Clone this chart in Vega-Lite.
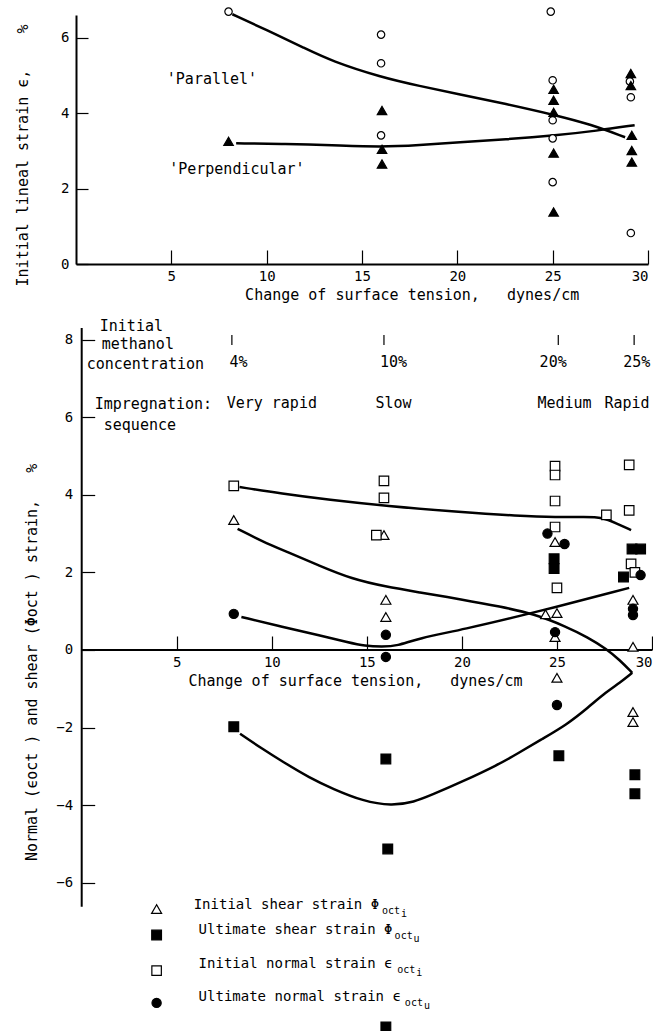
{
  "$schema": "https://vega.github.io/schema/vega-lite/v6.json",
  "background": "white",
  "padding": {"left": 15, "top": 5, "right": 0, "bottom": 0},
  "autosize": {"type": "pad"},
  "spacing": 64,
  "bounds": "flush",
  "resolve": {"scale": {"shape": "independent", "fill": "independent", "size": "independent"}},
  "datasets": {
    "topPoints": [
      {"x": 8.0, "y": 6.69, "s": "Parallel"},
      {"x": 16.0, "y": 6.08, "s": "Parallel"},
      {"x": 16.0, "y": 5.32, "s": "Parallel"},
      {"x": 16.0, "y": 3.41, "s": "Parallel"},
      {"x": 24.9, "y": 6.69, "s": "Parallel"},
      {"x": 25.0, "y": 4.87, "s": "Parallel"},
      {"x": 25.0, "y": 3.81, "s": "Parallel"},
      {"x": 25.0, "y": 3.33, "s": "Parallel"},
      {"x": 25.0, "y": 2.17, "s": "Parallel"},
      {"x": 29.05, "y": 4.84, "s": "Parallel"},
      {"x": 29.1, "y": 4.42, "s": "Parallel"},
      {"x": 29.1, "y": 0.82, "s": "Parallel"},
      {"x": 8.0, "y": 3.25, "s": "Perpendicular"},
      {"x": 16.05, "y": 4.07, "s": "Perpendicular"},
      {"x": 16.05, "y": 3.04, "s": "Perpendicular"},
      {"x": 16.05, "y": 2.65, "s": "Perpendicular"},
      {"x": 25.05, "y": 4.63, "s": "Perpendicular"},
      {"x": 25.05, "y": 4.34, "s": "Perpendicular"},
      {"x": 25.05, "y": 4.02, "s": "Perpendicular"},
      {"x": 25.05, "y": 2.94, "s": "Perpendicular"},
      {"x": 25.05, "y": 1.38, "s": "Perpendicular"},
      {"x": 29.1, "y": 5.05, "s": "Perpendicular"},
      {"x": 29.1, "y": 4.73, "s": "Perpendicular"},
      {"x": 29.15, "y": 3.41, "s": "Perpendicular"},
      {"x": 29.15, "y": 3.01, "s": "Perpendicular"},
      {"x": 29.15, "y": 2.7, "s": "Perpendicular"}
    ],
    "topCurves": [
      {"x": 8.2, "y": 6.62, "s": "Parallel"},
      {"x": 10.0, "y": 6.2, "s": "Parallel"},
      {"x": 12.0, "y": 5.72, "s": "Parallel"},
      {"x": 13.4, "y": 5.38, "s": "Parallel"},
      {"x": 16.0, "y": 4.95, "s": "Parallel"},
      {"x": 18.0, "y": 4.72, "s": "Parallel"},
      {"x": 20.1, "y": 4.5, "s": "Parallel"},
      {"x": 22.5, "y": 4.25, "s": "Parallel"},
      {"x": 25.2, "y": 3.94, "s": "Parallel"},
      {"x": 27.0, "y": 3.7, "s": "Parallel"},
      {"x": 28.8, "y": 3.36, "s": "Parallel"},
      {"x": 8.4, "y": 3.2, "s": "Perpendicular"},
      {"x": 11.0, "y": 3.18, "s": "Perpendicular"},
      {"x": 13.4, "y": 3.15, "s": "Perpendicular"},
      {"x": 16.0, "y": 3.1, "s": "Perpendicular"},
      {"x": 18.0, "y": 3.15, "s": "Perpendicular"},
      {"x": 20.1, "y": 3.23, "s": "Perpendicular"},
      {"x": 22.5, "y": 3.3, "s": "Perpendicular"},
      {"x": 25.2, "y": 3.41, "s": "Perpendicular"},
      {"x": 27.3, "y": 3.53, "s": "Perpendicular"},
      {"x": 29.3, "y": 3.68, "s": "Perpendicular"}
    ],
    "topLabels": [
      {"x": 7.13, "y": 4.9, "text": "'Parallel'"},
      {"x": 8.44, "y": 2.52, "text": "'Perpendicular'"}
    ],
    "bottomPoints": [
      {"x": 8.0, "y": 3.35, "series": "initShear"},
      {"x": 15.9, "y": 2.96, "series": "initShear"},
      {"x": 16.0, "y": 1.29, "series": "initShear"},
      {"x": 16.0, "y": 0.85, "series": "initShear"},
      {"x": 24.9, "y": 2.78, "series": "initShear"},
      {"x": 24.4, "y": 0.92, "series": "initShear"},
      {"x": 25.0, "y": 0.95, "series": "initShear"},
      {"x": 24.9, "y": 0.33, "series": "initShear"},
      {"x": 25.0, "y": -0.72, "series": "initShear"},
      {"x": 29.0, "y": 1.29, "series": "initShear"},
      {"x": 29.0, "y": 0.08, "series": "initShear"},
      {"x": 29.0, "y": -1.6, "series": "initShear"},
      {"x": 29.0, "y": -1.86, "series": "initShear"},
      {"x": 8.0, "y": -1.98, "series": "ultShear"},
      {"x": 16.0, "y": -2.81, "series": "ultShear"},
      {"x": 16.1, "y": -5.13, "series": "ultShear"},
      {"x": 16.0, "y": -9.72, "series": "ultShear"},
      {"x": 24.85, "y": 2.35, "series": "ultShear"},
      {"x": 24.85, "y": 2.1, "series": "ultShear"},
      {"x": 25.1, "y": -2.73, "series": "ultShear"},
      {"x": 28.95, "y": 2.6, "series": "ultShear"},
      {"x": 29.4, "y": 2.6, "series": "ultShear"},
      {"x": 28.5, "y": 1.88, "series": "ultShear"},
      {"x": 29.1, "y": -3.22, "series": "ultShear"},
      {"x": 29.1, "y": -3.71, "series": "ultShear"},
      {"x": 8.0, "y": 4.23, "series": "initNormal"},
      {"x": 15.9, "y": 4.36, "series": "initNormal"},
      {"x": 15.9, "y": 3.92, "series": "initNormal"},
      {"x": 15.5, "y": 2.96, "series": "initNormal"},
      {"x": 24.9, "y": 4.74, "series": "initNormal"},
      {"x": 24.9, "y": 4.51, "series": "initNormal"},
      {"x": 24.9, "y": 3.84, "series": "initNormal"},
      {"x": 24.9, "y": 3.17, "series": "initNormal"},
      {"x": 25.0, "y": 1.6, "series": "initNormal"},
      {"x": 27.6, "y": 3.48, "series": "initNormal"},
      {"x": 28.8, "y": 4.77, "series": "initNormal"},
      {"x": 28.8, "y": 3.6, "series": "initNormal"},
      {"x": 28.9, "y": 2.22, "series": "initNormal"},
      {"x": 29.1, "y": 2.0, "series": "initNormal"},
      {"x": 8.0, "y": 0.93, "series": "ultNormal"},
      {"x": 16.0, "y": 0.39, "series": "ultNormal"},
      {"x": 16.0, "y": -0.18, "series": "ultNormal"},
      {"x": 24.5, "y": 3.0, "series": "ultNormal"},
      {"x": 25.4, "y": 2.73, "series": "ultNormal"},
      {"x": 24.9, "y": 0.46, "series": "ultNormal"},
      {"x": 25.0, "y": -1.42, "series": "ultNormal"},
      {"x": 29.4, "y": 1.93, "series": "ultNormal"},
      {"x": 29.0, "y": 1.06, "series": "ultNormal"},
      {"x": 29.0, "y": 0.9, "series": "ultNormal"}
    ],
    "bottomCurves": [
      {"x": 8.3, "y": 4.2, "series": "initNormal"},
      {"x": 10.5, "y": 4.03, "series": "initNormal"},
      {"x": 13.0, "y": 3.87, "series": "initNormal"},
      {"x": 16.0, "y": 3.71, "series": "initNormal"},
      {"x": 20.0, "y": 3.55, "series": "initNormal"},
      {"x": 22.9, "y": 3.46, "series": "initNormal"},
      {"x": 25.0, "y": 3.42, "series": "initNormal"},
      {"x": 26.5, "y": 3.43, "series": "initNormal"},
      {"x": 27.4, "y": 3.42, "series": "initNormal"},
      {"x": 28.1, "y": 3.27, "series": "initNormal"},
      {"x": 28.9, "y": 3.09, "series": "initNormal"},
      {"x": 8.2, "y": 3.12, "series": "initShear"},
      {"x": 9.5, "y": 2.8, "series": "initShear"},
      {"x": 10.8, "y": 2.53, "series": "initShear"},
      {"x": 12.5, "y": 2.17, "series": "initShear"},
      {"x": 14.2, "y": 1.83, "series": "initShear"},
      {"x": 16.0, "y": 1.63, "series": "initShear"},
      {"x": 17.7, "y": 1.49, "series": "initShear"},
      {"x": 20.0, "y": 1.3, "series": "initShear"},
      {"x": 22.0, "y": 1.12, "series": "initShear"},
      {"x": 23.8, "y": 0.93, "series": "initShear"},
      {"x": 25.5, "y": 0.6, "series": "initShear"},
      {"x": 26.6, "y": 0.33, "series": "initShear"},
      {"x": 27.6, "y": 0.03, "series": "initShear"},
      {"x": 28.3, "y": -0.26, "series": "initShear"},
      {"x": 28.96, "y": -0.59, "series": "initShear"},
      {"x": 8.33, "y": -2.16, "series": "ultShear"},
      {"x": 9.5, "y": -2.55, "series": "ultShear"},
      {"x": 10.6, "y": -2.89, "series": "ultShear"},
      {"x": 12.0, "y": -3.3, "series": "ultShear"},
      {"x": 13.2, "y": -3.58, "series": "ultShear"},
      {"x": 14.8, "y": -3.9, "series": "ultShear"},
      {"x": 16.3, "y": -4.02, "series": "ultShear"},
      {"x": 17.5, "y": -3.92, "series": "ultShear"},
      {"x": 18.4, "y": -3.74, "series": "ultShear"},
      {"x": 20.0, "y": -3.4, "series": "ultShear"},
      {"x": 21.9, "y": -2.96, "series": "ultShear"},
      {"x": 22.9, "y": -2.68, "series": "ultShear"},
      {"x": 24.2, "y": -2.3, "series": "ultShear"},
      {"x": 25.5, "y": -1.93, "series": "ultShear"},
      {"x": 26.6, "y": -1.5, "series": "ultShear"},
      {"x": 27.6, "y": -1.08, "series": "ultShear"},
      {"x": 28.3, "y": -0.85, "series": "ultShear"},
      {"x": 28.96, "y": -0.59, "series": "ultShear"},
      {"x": 8.4, "y": 0.85, "series": "ultNormal"},
      {"x": 10.5, "y": 0.6, "series": "ultNormal"},
      {"x": 12.5, "y": 0.38, "series": "ultNormal"},
      {"x": 14.0, "y": 0.2, "series": "ultNormal"},
      {"x": 14.9, "y": 0.1, "series": "ultNormal"},
      {"x": 15.8, "y": 0.08, "series": "ultNormal"},
      {"x": 16.6, "y": 0.1, "series": "ultNormal"},
      {"x": 17.7, "y": 0.3, "series": "ultNormal"},
      {"x": 20.0, "y": 0.52, "series": "ultNormal"},
      {"x": 23.8, "y": 0.96, "series": "ultNormal"},
      {"x": 28.8, "y": 1.6, "series": "ultNormal"}
    ],
    "axisLines": [
      {"x": 0, "y": -6.62, "x2": 0, "y2": 8.3},
      {"x": 0, "y": 0, "x2": 30, "y2": 0}
    ],
    "annotTicks": [
      {"x": 7.9, "y": 7.86, "x2": 7.9, "y2": 8.12},
      {"x": 15.9, "y": 7.86, "x2": 15.9, "y2": 8.12},
      {"x": 25.07, "y": 7.86, "x2": 25.07, "y2": 8.12},
      {"x": 29.06, "y": 7.86, "x2": 29.06, "y2": 8.12}
    ],
    "annotLeft": [
      {"x": 0.95, "y": 8.36, "text": "Initial"},
      {"x": 1.05, "y": 7.88, "text": "methanol"},
      {"x": 0.26, "y": 7.38, "text": "concentration"},
      {"x": 0.68, "y": 6.35, "text": "Impregnation:"},
      {"x": 1.16, "y": 5.8, "text": "sequence"},
      {"x": 27.5, "y": 6.37, "text": "Rapid"}
    ],
    "annotCenter": [
      {"x": 8.25, "y": 7.42, "text": "4%"},
      {"x": 16.4, "y": 7.42, "text": "10%"},
      {"x": 24.8, "y": 7.42, "text": "20%"},
      {"x": 29.2, "y": 7.42, "text": "25%"},
      {"x": 10.0, "y": 6.37, "text": "Very rapid"},
      {"x": 16.4, "y": 6.37, "text": "Slow"},
      {"x": 25.4, "y": 6.37, "text": "Medium"}
    ],
    "legendSymbols": [
      {"x": 3.94, "y": -6.68, "series": "initShear"},
      {"x": 3.94, "y": -7.35, "series": "ultShear"},
      {"x": 3.94, "y": -8.27, "series": "initNormal"},
      {"x": 3.94, "y": -9.1, "series": "ultNormal"}
    ],
    "legendText": [
      {"x": 5.89, "y": -6.57, "text": "Initial shear strain Φ"},
      {"x": 6.15, "y": -7.22, "text": "Ultimate shear strain Φ"},
      {"x": 6.15, "y": -8.1, "text": "Initial normal strain ϵ"},
      {"x": 6.15, "y": -8.94, "text": "Ultimate normal strain ϵ"}
    ],
    "legendSub": [
      {"x": 15.8, "y": -6.72, "text": "oct"},
      {"x": 16.8, "y": -6.8, "text": "i"},
      {"x": 16.46, "y": -7.37, "text": "oct"},
      {"x": 17.45, "y": -7.45, "text": "u"},
      {"x": 16.6, "y": -8.25, "text": "oct"},
      {"x": 17.6, "y": -8.33, "text": "i"},
      {"x": 17.0, "y": -9.09, "text": "oct"},
      {"x": 18.0, "y": -9.17, "text": "u"}
    ]
  },
  "vconcat": [
    {
      "width": 572,
      "height": 249,
      "encoding": {
        "x": {"field": "x", "type": "quantitative",
              "scale": {"domain": [0, 30], "nice": false, "zero": false},
              "axis": {"values": [5, 10, 15, 20, 25, 30], "tickSize": -14, "labelPadding": 19,
                       "title": "\u200b\u00a0\u00a0\u00a0\u00a0\u00a0\u00a0\u00a0\u00a0\u00a0\u00a0\u00a0Change of surface tension,\u00a0\u00a0\u00a0dynes/cm", "titlePadding": 4}},
        "y": {"field": "y", "type": "quantitative",
              "scale": {"domain": [0, 6.6], "nice": false, "zero": false},
              "axis": {"values": [0, 2, 4, 6], "tickSize": -12, "labelPadding": 19,
                       "title": "Initial lineal strain ϵ,\u00a0\u00a0\u00a0\u00a0%\u00a0\u200b", "titleAnchor": "end", "titlePadding": 30}}
      },
      "layer": [
        {
          "data": {"name": "topCurves"},
          "mark": {"type": "line", "interpolate": "basis", "color": "black", "strokeWidth": 2.5},
          "encoding": {"detail": {"field": "s"}}
        },
        {
          "data": {"name": "topPoints"},
          "mark": {"type": "point", "filled": true, "stroke": "black", "strokeWidth": 1.2, "opacity": 1},
          "encoding": {
            "shape": {"field": "s", "scale": {"domain": ["Parallel", "Perpendicular"], "range": ["circle", "triangle-up"]}, "legend": null},
            "fill": {"field": "s", "scale": {"domain": ["Parallel", "Perpendicular"], "range": ["white", "black"]}, "legend": null},
            "size": {"field": "s", "scale": {"domain": ["Parallel", "Perpendicular"], "range": [55, 90]}, "legend": null}
          }
        },
        {
          "data": {"name": "topLabels"},
          "mark": {"type": "text", "fontSize": 15, "color": "black", "align": "center", "baseline": "middle"},
          "encoding": {"text": {"field": "text"}}
        }
      ]
    },
    {
      "width": 576,
      "height": 704,
      "encoding": {
        "x": {"field": "x", "type": "quantitative",
              "scale": {"domain": [-0.3, 30], "nice": false, "zero": false},
              "axis": {"values": [5, 10, 15, 20, 25, 30], "offset": -382, "domain": false, "tickSize": -14, "labelPadding": 19,
                       "title": "Change of surface tension,\u00a0\u00a0\u00a0dynes/cm\u00a0\u00a0\u200b", "titlePadding": 4}},
        "y": {"field": "y", "type": "quantitative",
              "scale": {"domain": [-9.85, 8.3], "nice": false, "zero": false},
              "axis": {"values": [-6, -4, -2, 0, 2, 4, 6, 8], "offset": -5.7, "domain": false, "tickSize": -13, "labelPadding": 22,
                       "title": "\u200b\u00a0\u00a0\u00a0\u00a0Normal (ϵoct ) and shear (Φoct ) strain,\u00a0\u00a0\u00a0%", "titlePadding": 16}}
      },
      "layer": [
        {
          "data": {"name": "axisLines"},
          "mark": {"type": "rule", "color": "black", "strokeWidth": 2},
          "encoding": {"x2": {"field": "x2"}, "y2": {"field": "y2"}}
        },
        {
          "data": {"name": "bottomCurves"},
          "mark": {"type": "line", "interpolate": "basis", "color": "black", "strokeWidth": 2.5},
          "encoding": {"detail": {"field": "series"}}
        },
        {
          "data": {"name": "bottomPoints"},
          "mark": {"type": "point", "filled": true, "stroke": "black", "strokeWidth": 1.2, "opacity": 1},
          "encoding": {
            "shape": {"field": "series", "scale": {"domain": ["initShear", "ultShear", "initNormal", "ultNormal"], "range": ["triangle-up", "square", "square", "circle"]}, "legend": null},
            "fill": {"field": "series", "scale": {"domain": ["initShear", "ultShear", "initNormal", "ultNormal"], "range": ["white", "black", "white", "black"]}, "legend": null},
            "size": {"field": "series", "scale": {"domain": ["initShear", "ultShear", "initNormal", "ultNormal"], "range": [100, 85, 75, 60]}, "legend": null}
          }
        },
        {
          "data": {"name": "legendSymbols"},
          "mark": {"type": "point", "filled": true, "stroke": "black", "strokeWidth": 1.2, "opacity": 1},
          "encoding": {
            "shape": {"field": "series", "legend": null},
            "fill": {"field": "series", "legend": null},
            "size": {"field": "series", "legend": null}
          }
        },
        {
          "data": {"name": "annotTicks"},
          "mark": {"type": "rule", "color": "black", "strokeWidth": 1.2},
          "encoding": {"x2": {"field": "x2"}, "y2": {"field": "y2"}}
        },
        {
          "data": {"name": "annotLeft"},
          "mark": {"type": "text", "fontSize": 15, "color": "black", "align": "left", "baseline": "middle"},
          "encoding": {"text": {"field": "text"}}
        },
        {
          "data": {"name": "annotCenter"},
          "mark": {"type": "text", "fontSize": 15, "color": "black", "align": "center", "baseline": "middle"},
          "encoding": {"text": {"field": "text"}}
        },
        {
          "data": {"name": "legendText"},
          "mark": {"type": "text", "fontSize": 14, "color": "black", "align": "left", "baseline": "middle"},
          "encoding": {"text": {"field": "text"}}
        },
        {
          "data": {"name": "legendSub"},
          "mark": {"type": "text", "fontSize": 10, "color": "black", "align": "left", "baseline": "middle"},
          "encoding": {"text": {"field": "text"}}
        }
      ]
    }
  ],
  "config": {
    "font": "DejaVu Sans Mono",
    "view": {"stroke": null},
    "axis": {
      "grid": false,
      "domainColor": "black",
      "domainWidth": 2,
      "tickColor": "black",
      "tickWidth": 1.2,
      "labelColor": "black",
      "titleColor": "black",
      "labelFontSize": 14,
      "titleFontSize": 15,
      "titleFontWeight": "normal"
    }
  }
}
